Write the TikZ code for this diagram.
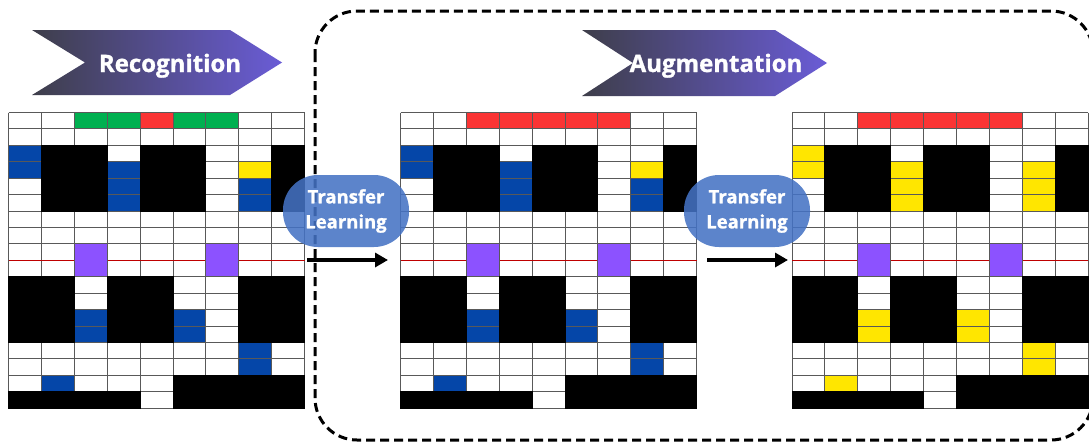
\documentclass[tikz,border=0pt]{standalone}
\usepackage{fontspec}
\newfontfamily\opensans{Open Sans}[BoldFeatures={FakeBold=1.2}]
\usetikzlibrary{arrows.meta}

\definecolor{cellgreen}{RGB}{0,176,80}
\definecolor{cellred}{RGB}{250,52,52}
\definecolor{cellblue}{RGB}{5,70,168}
\definecolor{cellyellow}{RGB}{255,230,0}
\definecolor{cellpurple}{RGB}{140,82,255}
\definecolor{chevdark}{RGB}{62,62,74}
\definecolor{chevlight}{RGB}{106,92,214}
\definecolor{tlblue}{RGB}{68,114,196}

\begin{document}
\begin{tikzpicture}
  [x=1pt,y=-1pt,
   gridline/.style={draw=black!65,line width=1pt},
   redline/.style={draw=red!75!black,line width=1pt},
   block/.style={fill=black,draw=black,line width=1pt},
   stage/.style={text=white,anchor=base,font=\opensans\bfseries\fontsize{24}{30}\selectfont},
   tlbox/.style={fill=tlblue,fill opacity=0.87,text opacity=1,text=white,rounded corners=35pt,
     minimum width=126pt,minimum height=72pt,align=center,inner sep=0pt,
     font=\opensans\bfseries\fontsize{18.5}{25}\selectfont},
   flow/.style={-{Triangle[length=13pt,width=14pt]},line width=3.5pt},
   frame/.style={dashed,dash pattern=on 9pt off 5pt,line width=3pt,rounded corners=42pt}]
  \useasboundingbox (0,0) rectangle (1089,442);
  \fill[white] (0,0) rectangle (1089,442);
  \draw[frame] (315,11) rectangle (1093,440);

  % banners
  \shade[left color=chevdark,right color=chevlight] (32,30) -- (230,30) -- (282,62.5) -- (230,95) -- (32,95) -- (85,62.5) -- cycle;
  \node[stage] (recog) at (170,72) {Recognition};
  \shade[left color=chevdark,right color=chevlight] (582,30) -- (775,30) -- (827,63) -- (775,96) -- (582,96) -- (633,63) -- cycle;
  \node[stage] (augm) at (716,72) {Augmentation};

  % the three grids
  \foreach \gx/\mark/\topa/\topb in {8.5/cellblue/cellgreen/cellred,400.5/cellblue/cellred/cellred,792/cellyellow/cellred/cellred} {
    \begin{scope}[shift={(\gx pt,-112.5pt)},x=32.9pt,y=-16.43pt]
      \fill[white] (0,0) rectangle (9,18);
      \foreach \col in {3,4,6,7} \fill[\topa] (\col-1,0) rectangle (\col,1);
      \fill[\topb] (4,0) rectangle (5,1);
      \fill[cellyellow] (7,3) rectangle (8,4);
      \foreach \col/\row in {1/3,1/4,4/4,4/5,4/6,8/5,8/6,3/13,3/14,6/13,6/14,8/15,8/16,2/17}
        \fill[\mark] (\col-1,\row-1) rectangle (\col,\row);
      \foreach \col in {0,...,9} \draw[gridline] (\col,0) -- (\col,18);
      \foreach \row in {0,...,18} \draw[gridline] (0,\row) -- (9,\row);
      \draw[redline] (0,9) -- (9,9);
      \foreach \col in {3,7} \draw[gridline,fill=cellpurple] (\col-1,8) rectangle (\col,10);
      \foreach \ca/\ra/\cb/\rb in {2/3/3/6,5/3/6/6,9/3/9/6,1/11/2/14,4/11/5/14,8/11/9/14,6/17/9/18,1/18/4/18}
        \draw[block] (\ca-1,\ra-1) rectangle (\cb,\rb);
    \end{scope}
  }

  \node[tlbox] (tl1) at (346,211) {Transfer\\Learning};
  \node[tlbox] (tl2) at (747,211) {Transfer\\Learning};

  \coordinate (a1s) at (307,260);
  \coordinate (a1e) at (388,260);
  \coordinate (a2s) at (707,260);
  \coordinate (a2e) at (788,260);
  \draw[flow] (a1s) -- (a1e);
  \draw[flow] (a2s) -- (a2e);
\end{tikzpicture}
\end{document}
